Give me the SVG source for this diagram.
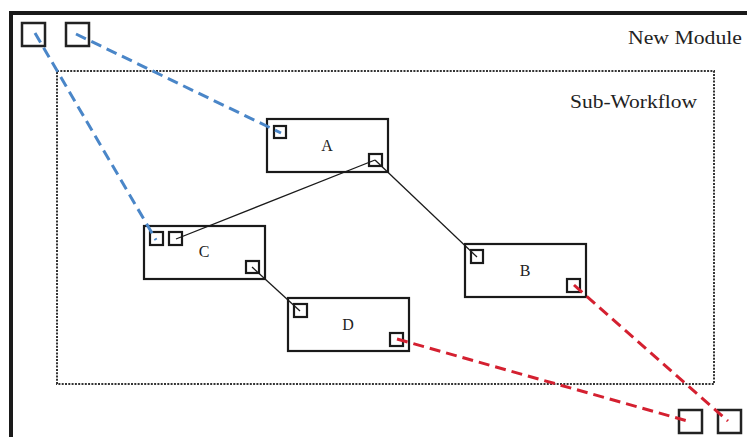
<svg xmlns="http://www.w3.org/2000/svg" width="747" height="437" viewBox="0 0 747 437">
<style>
.frame{fill:none;stroke:#1a1a1a;stroke-width:4}
.sub{fill:none;stroke:#333;stroke-width:2;stroke-dasharray:2 1.3}
.node{fill:#fff;stroke:#1a1a1a;stroke-width:2.2}
.port{fill:#fff;stroke:#1a1a1a;stroke-width:2.2}
.bport{fill:#fff;stroke:#222;stroke-width:2.5}
.lbl{font-family:"Liberation Serif","DejaVu Serif",serif;fill:#222}
.wire{stroke:#1a1a1a;stroke-width:1.3;fill:none}
.blue{stroke:#4a86c8;stroke-width:3;stroke-dasharray:11 6;fill:none}
.red{stroke:#d42030;stroke-width:3;stroke-dasharray:11 6;fill:none}
</style>
<rect width="747" height="437" fill="#fff"/>
<g id="module">
<rect class="frame" x="11" y="13" width="800" height="500"/>
<text class="lbl" x="628" y="44" font-size="18" textLength="114" lengthAdjust="spacingAndGlyphs">New Module</text>
<rect class="bport" x="22" y="23" width="23" height="23"/>
<rect class="bport" x="66" y="23" width="23" height="23"/>
<rect class="bport" x="679" y="410" width="23" height="23"/>
<rect class="bport" x="718" y="410" width="23" height="23"/>
</g>
<g id="subworkflow">
<rect class="sub" x="57" y="71" width="657" height="313"/>
<text class="lbl" x="570" y="108" font-size="18" textLength="127" lengthAdjust="spacingAndGlyphs">Sub-Workflow</text>
</g>
<g id="A">
<rect class="node" x="267" y="119" width="121" height="53"/>
<rect class="port" x="274" y="126" width="12" height="12"/>
<rect class="port" x="369" y="154" width="13" height="12"/>
<text class="lbl" x="327" y="151" font-size="16" text-anchor="middle">A</text>
</g>
<g id="B">
<rect class="node" x="465" y="244" width="121" height="53"/>
<rect class="port" x="471" y="250" width="12" height="13"/>
<rect class="port" x="567" y="279" width="13" height="13"/>
<text class="lbl" x="525" y="276" font-size="16" text-anchor="middle">B</text>
</g>
<g id="C">
<rect class="node" x="144" y="226" width="121" height="53"/>
<rect class="port" x="150" y="232" width="13" height="13"/>
<rect class="port" x="169" y="232" width="13" height="13"/>
<rect class="port" x="246" y="261" width="13" height="12"/>
<text class="lbl" x="204" y="257" font-size="16" text-anchor="middle">C</text>
</g>
<g id="D">
<rect class="node" x="288" y="298" width="121" height="53"/>
<rect class="port" x="294" y="304" width="13" height="13"/>
<rect class="port" x="390" y="333" width="13" height="13"/>
<text class="lbl" x="348" y="330" font-size="16" text-anchor="middle">D</text>
</g>
<g id="connectors">
<line class="wire" x1="375" y1="160" x2="176" y2="239"/>
<line class="wire" x1="375" y1="160" x2="477" y2="257"/>
<line class="wire" x1="252" y1="267" x2="300" y2="311"/>
<line class="blue" x1="35" y1="33" x2="156" y2="240"/>
<line class="blue" x1="76" y1="34" x2="281" y2="133"/>
<line class="red" x1="574" y1="285" x2="728" y2="421"/>
<line class="red" x1="397" y1="339" x2="691" y2="422"/>
</g>
</svg>
